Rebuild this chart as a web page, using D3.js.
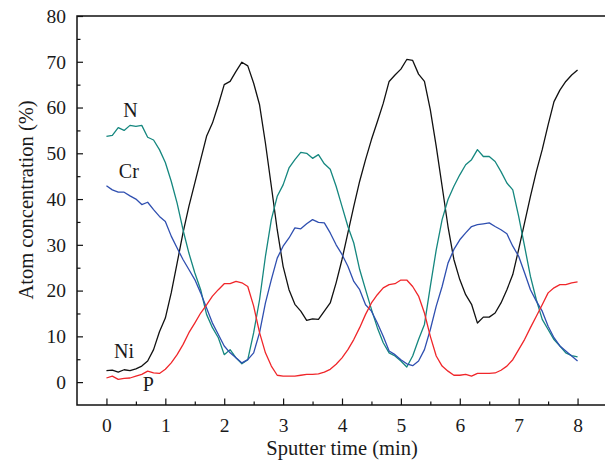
<html lang="en">
<head>
  <meta charset="UTF-8"/>
  <script src="https://d3js.org/d3.v7.min.js"></script>
  <style>
body {
  margin: 0;
  background: #fff;
  font-family: 'Liberation Serif', 'DejaVu Serif', serif;
}
svg {
  display: block;
}
text {
  fill: #1a1a1a;
  font-family: 'Liberation Serif', serif;
}
.tick text {
  font-size: 19.5px;
}
text.axis_title {
  font-size: 20.5px;
}
text.label {
  font-size: 20px;
}
.line {
  fill: none;
  stroke-width: 1.3;
  stroke-linejoin: round;
}
</style>
</head>
<body>
<svg width="605" height="462"></svg>
<script>

// sputter time (min)
const time = [0, 0.1, 0.2, 0.3, 0.4, 0.5, 0.6, 0.7, 0.8, 0.9,
  1, 1.1, 1.2, 1.3, 1.4, 1.5, 1.6, 1.7, 1.8, 1.9,
  2, 2.1, 2.2, 2.3, 2.4, 2.5, 2.6, 2.7, 2.8, 2.9,
  3, 3.1, 3.2, 3.3, 3.4, 3.5, 3.6, 3.7, 3.8, 3.9,
  4, 4.1, 4.2, 4.3, 4.4, 4.5, 4.6, 4.7, 4.8, 4.9,
  5, 5.1, 5.2, 5.3, 5.4, 5.5, 5.6, 5.7, 5.8, 5.9,
  6, 6.1, 6.2, 6.3, 6.4, 6.5, 6.6, 6.7, 6.8, 6.9,
  7, 7.1, 7.2, 7.3, 7.4, 7.5, 7.6, 7.7, 7.8, 7.9, 8];

const ni = [2.5, 2.6, 2.2, 2.7, 2.5, 2.9, 3.5, 4.6, 7.1, 11,
  14, 19.5, 26, 32.6, 38.4, 43.5, 48.6, 53.7, 56.6, 60.6,
  65, 65.7, 67.9, 69.9, 69.1, 65.3, 60.6, 52.2, 42.8, 33.3,
  25.3, 20.2, 17, 15.5, 13.5, 13.8, 13.7, 15.5, 17.3, 21.7,
  26.8, 32.6, 38.4, 43.9, 48.6, 53, 56.9, 60.9, 65.7, 67.1,
  68.4, 70.5, 70.3, 67.3, 65.7, 59.5, 51.5, 42.8, 34, 26.8,
  22.4, 19.1, 17, 12.9, 14.2, 14.2, 15.1, 17.3, 20.2, 23.5,
  29, 34.8, 40.6, 46, 50.8, 56.2, 61.3, 63.8, 65.7, 67.1, 68.2];

const n = [53.7, 53.9, 55.6, 55, 56.1, 55.9, 56.1, 53.5, 52.9, 50.8,
  48, 43.9, 39.1, 33.3, 28.2, 23.9, 20.2, 14.8, 11.9, 9.7,
  6, 7.1, 5.3, 4, 4.9, 10.8, 18, 27.5, 35.5, 40.6,
  43.1, 46.8, 48.6, 50.2, 50, 48.9, 49.7, 47.7, 46.5, 42.8,
  38.4, 34, 30.4, 24.6, 20.2, 15.9, 11.9, 8.6, 6.4, 5.7,
  4.6, 3.3, 5.7, 9.3, 12.6, 20.9, 28.9, 35.5, 39.9, 42.8,
  45.3, 47.5, 48.6, 50.8, 49.3, 49.3, 48.2, 46, 43.5, 42,
  36.2, 29.7, 23.1, 18, 13.7, 11.5, 9.3, 7.9, 6.4, 5.8, 5.5];

const cr = [42.9, 42, 41.5, 41.5, 40.7, 40, 38.8, 39.3, 37.7, 36.2,
  35.1, 31.9, 29.3, 26.8, 24.6, 22.4, 19.5, 16.2, 12.9, 10.4,
  7.9, 6.4, 5.3, 4.2, 4.9, 6.4, 10.8, 17.3, 22.4, 27.1,
  29.7, 31.5, 33.7, 33.5, 34.6, 35.5, 34.9, 34.8, 32.6, 30,
  27.9, 25.3, 22, 20.2, 16.9, 15.5, 12.9, 10, 6.8, 6,
  4.9, 4, 3.6, 4.6, 7.1, 11.5, 16.6, 20.9, 26, 29,
  31.1, 32.6, 34, 34.4, 34.6, 34.8, 34, 33.3, 32.4, 29.7,
  27.5, 23.9, 20.2, 17.7, 15.5, 12.2, 9.7, 7.9, 6.8, 5.7, 4.6];

const p = [0.9, 1.3, 0.6, 0.8, 0.9, 1.3, 1.7, 2.4, 2, 1.9,
  2.8, 4.2, 6, 8.2, 10.8, 12.9, 15.1, 16.9, 18.8, 20.2,
  21.5, 21.5, 22, 21.7, 20.9, 16.6, 10.8, 6.4, 3.5, 1.5,
  1.3, 1.3, 1.3, 1.5, 1.7, 1.7, 1.8, 2.2, 2.8, 3.9,
  5.3, 7.1, 9.3, 11.9, 14.8, 17.3, 19.1, 20.6, 21.3, 21.5,
  22.3, 22.3, 20.9, 18.8, 15.1, 10, 5.7, 3.5, 2.4, 1.5,
  1.5, 1.7, 1.3, 1.9, 1.9, 1.9, 2, 2.6, 3.5, 4.9,
  7.1, 9.3, 11.9, 14.4, 16.9, 19.5, 20.6, 21.3, 21.3, 21.7, 21.9];

const xTicks = [0, 1, 2, 3, 4, 5, 6, 7, 8];
const yTicks = [0, 10, 20, 30, 40, 50, 60, 70, 80];

const series = [
  {name: 'Ni', values: ni, color: '#111111'},
  {name: 'N', values: n, color: '#15877f'},
  {name: 'Cr', values: cr, color: '#2f4fb0'},
  {name: 'P', values: p, color: '#f0262a'}
];

const svg = d3.select('svg');

const margin = {left: 77, top: 16, bottom: 405, right: 607};

const x = d3.scaleLinear().domain([-0.5, 8.5]).range([margin.left, margin.right]);
const y = d3.scaleLinear().domain([-5, 80]).range([margin.bottom, margin.top]);

// frame
svg.append('rect')
  .attr('x', margin.left).attr('y', margin.top)
  .attr('width', margin.right - margin.left).attr('height', margin.bottom - margin.top)
  .attr('fill', 'none').attr('stroke', '#111').attr('stroke-width', 1.5);

// minor ticks
const xMinor = d3.range(0.5, 8.5, 1);
const yMinor = d3.range(5, 80, 10);

svg.append('g')
  .attr('transform', `translate(0,${margin.bottom})`)
  .call(d3.axisBottom(x).tickValues(xMinor).tickSize(-3.5).tickFormat(''))
  .call(g => g.select('.domain').remove())
  .selectAll('line').attr('stroke', '#111').attr('stroke-width', 1.2);

svg.append('g')
  .attr('transform', `translate(${margin.left},0)`)
  .call(d3.axisLeft(y).tickValues(yMinor).tickSize(-3.5).tickFormat(''))
  .call(g => g.select('.domain').remove())
  .selectAll('line').attr('stroke', '#111').attr('stroke-width', 1.2);

// major ticks
const xAxis = svg.append('g')
  .attr('transform', `translate(0,${margin.bottom})`)
  .call(d3.axisBottom(x).tickValues(xTicks).tickSize(-6.5).tickPadding(13).tickFormat(d3.format('d')));
xAxis.select('.domain').remove();
xAxis.selectAll('line').attr('stroke', '#111').attr('stroke-width', 1.2);

const yAxis = svg.append('g')
  .attr('transform', `translate(${margin.left},0)`)
  .call(d3.axisLeft(y).tickValues(yTicks).tickSize(-6).tickPadding(11).tickFormat(d3.format('d')));
yAxis.select('.domain').remove();
yAxis.selectAll('line').attr('stroke', '#111').attr('stroke-width', 1.2);

// curves
const line = d3.line()
  .x((d, i) => x(time[i]))
  .y(d => y(d));

svg.selectAll('path.line')
  .data(series)
  .join('path')
  .attr('class', 'line')
  .attr('stroke', d => d.color)
  .attr('d', d => line(d.values));

// series labels
const labels = [
  {text: 'N', t: 0.41, v: 58.9},
  {text: 'Cr', t: 0.38, v: 45.5},
  {text: 'Ni', t: 0.30, v: 6.3},
  {text: 'P', t: 0.71, v: -0.9}
];

svg.selectAll('text.label')
  .data(labels)
  .join('text')
  .attr('class', 'label')
  .attr('x', d => x(d.t))
  .attr('y', d => y(d.v))
  .attr('text-anchor', 'middle')
  .attr('dominant-baseline', 'middle')
  .text(d => d.text);

// axis titles
svg.append('text')
  .attr('class', 'axis_title')
  .attr('x', (x(0) + x(8)) / 2)
  .attr('y', 455)
  .attr('text-anchor', 'middle')
  .text('Sputter time (min)');

svg.append('text')
  .attr('class', 'axis_title')
  .attr('transform', 'rotate(-90)')
  .attr('x', -200)
  .attr('y', 33)
  .attr('text-anchor', 'middle')
  .text('Atom concentration (%)');

</script>
</body>
</html>
